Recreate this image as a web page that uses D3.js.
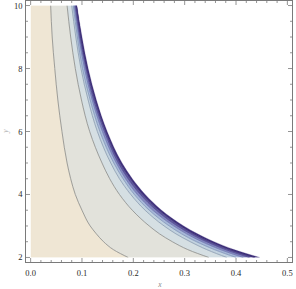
<!DOCTYPE html>
<html>
<head>
<meta charset="utf-8">
<script src="https://cdn.jsdelivr.net/npm/d3@7"></script>
<style>
  body { margin: 0; background: #fff; }
  svg { display: block; }
</style>
</head>
<body>
<div id="chart"></div>
<script>
// y sample rows, and x position of each contour along those rows
const ys = [2, 2.25, 2.5, 2.75, 3, 3.5, 4, 4.5, 5, 6, 7, 8, 9, 10];

const contour1 = [0.190, 0.161, 0.142, 0.128, 0.116, 0.100, 0.087, 0.078, 0.071, 0.061, 0.053, 0.047, 0.042, 0.039];
const contour2 = [0.347, 0.306, 0.276, 0.251, 0.231, 0.198, 0.173, 0.154, 0.139, 0.115, 0.099, 0.087, 0.078, 0.071];
const contour3 = [0.382, 0.343, 0.311, 0.283, 0.260, 0.223, 0.195, 0.173, 0.156, 0.130, 0.112, 0.098, 0.088, 0.080];
const contour4 = [0.400, 0.358, 0.323, 0.294, 0.270, 0.231, 0.202, 0.180, 0.162, 0.135, 0.116, 0.101, 0.091, 0.083];
const contour5 = [0.414, 0.370, 0.334, 0.304, 0.279, 0.238, 0.208, 0.185, 0.167, 0.140, 0.120, 0.105, 0.094, 0.085];
const contour6 = [0.426, 0.380, 0.343, 0.312, 0.286, 0.245, 0.214, 0.190, 0.171, 0.144, 0.123, 0.108, 0.096, 0.087];
const contour7 = [0.436, 0.389, 0.351, 0.319, 0.293, 0.251, 0.219, 0.195, 0.175, 0.147, 0.126, 0.110, 0.098, 0.089];
const boundary = [0.446, 0.396, 0.357, 0.325, 0.298, 0.255, 0.223, 0.198, 0.178, 0.149, 0.128, 0.112, 0.100, 0.090];

const xTicks = [0, 0.1, 0.2, 0.3, 0.4, 0.5];
const yTicks = [2, 4, 6, 8, 10];

const contours = [contour1, contour2, contour3, contour4, contour5, contour6, contour7, boundary];
const bandColors = ["#efe6d4", "#e2e2db", "#d5dfe3", "#c3d3e0", "#a7b7d8", "#8587c0", "#5f579b", "#3e2f7b"];
const lineColors = ["#8a8a86", "#8a8a86", "#8a9aae", "#8296b8", "#6f78b0", "#4f4a92", "#382a72"];

const W = 296, H = 289;

const x = d3.scaleLinear().domain([-0.01, 0.51]).range([25.5, 292.5]);
const y = d3.scaleLinear().domain([1.84, 10.16]).range([262.5, 0.5]);

const svg = d3.select("#chart")
    .append("svg")
    .attr("width", W)
    .attr("height", H);

svg.append("defs").append("clipPath")
    .attr("id", "plotClip")
    .append("rect")
    .attr("x", x(0))
    .attr("y", y(10))
    .attr("width", x(0.5) - x(0))
    .attr("height", y(2) - y(10));

const plot = svg.append("g").attr("clip-path", "url(#plotClip)");

// filled bands between consecutive contours
const rows = ys.map((v, i) => ({ y: v, xs: contours.map(c => c[i]) }));

const area = (lo, hi) => d3.area()
    .curve(d3.curveMonotoneY)
    .y(d => y(d.y))
    .x0(d => lo < 0 ? x(0) : x(d.xs[lo]))
    .x1(d => x(d.xs[hi]));

for (let k = 0; k < contours.length; k++) {
    plot.append("path")
        .datum(rows)
        .attr("d", area(k - 1, k))
        .attr("fill", bandColors[k])
        .attr("stroke", bandColors[k])
        .attr("stroke-width", 0.3);
}

// contour lines
const line = (k) => d3.line()
    .curve(d3.curveMonotoneY)
    .y(d => y(d.y))
    .x(d => x(d.xs[k]));

for (let k = 0; k < contours.length - 1; k++) {
    plot.append("path")
        .datum(rows)
        .attr("d", line(k))
        .attr("fill", "none")
        .attr("stroke", lineColors[k])
        .attr("stroke-width", 0.8);
}

// frame
const frameColor = "#7a7a7a";
const x0 = x.range()[0], x1 = x.range()[1], y0 = y.range()[0], y1 = y.range()[1];
svg.append("rect")
    .attr("x", x0)
    .attr("y", y1)
    .attr("width", x1 - x0)
    .attr("height", y0 - y1)
    .attr("fill", "none")
    .attr("stroke", frameColor)
    .attr("stroke-width", 1);

// ticks (inward, on all four sides)
const xMinor = d3.range(0, 0.5001, 0.02).filter(v => !xTicks.some(t => Math.abs(t - v) < 1e-6));
const yMinor = d3.range(2, 10.001, 0.5).filter(v => !yTicks.some(t => Math.abs(t - v) < 1e-6));

const ticks = svg.append("g").attr("stroke", frameColor).attr("stroke-width", 0.8);
xTicks.forEach(v => {
    ticks.append("line").attr("x1", x(v)).attr("x2", x(v)).attr("y1", y0).attr("y2", y0 - 4.5);
    ticks.append("line").attr("x1", x(v)).attr("x2", x(v)).attr("y1", y1).attr("y2", y1 + 4.5);
});
xMinor.forEach(v => {
    ticks.append("line").attr("x1", x(v)).attr("x2", x(v)).attr("y1", y0).attr("y2", y0 - 2.5);
    ticks.append("line").attr("x1", x(v)).attr("x2", x(v)).attr("y1", y1).attr("y2", y1 + 2.5);
});
yTicks.forEach(v => {
    ticks.append("line").attr("y1", y(v)).attr("y2", y(v)).attr("x1", x0).attr("x2", x0 + 4.5);
    ticks.append("line").attr("y1", y(v)).attr("y2", y(v)).attr("x1", x1).attr("x2", x1 - 4.5);
});
yMinor.forEach(v => {
    ticks.append("line").attr("y1", y(v)).attr("y2", y(v)).attr("x1", x0).attr("x2", x0 + 2.5);
    ticks.append("line").attr("y1", y(v)).attr("y2", y(v)).attr("x1", x1).attr("x2", x1 - 2.5);
});

// tick labels
const labelFont = "'Liberation Serif', 'DejaVu Serif', serif";
svg.append("g")
    .selectAll("text")
    .data(xTicks)
    .join("text")
    .attr("x", d => x(d))
    .attr("y", 276)
    .attr("text-anchor", "middle")
    .attr("font-family", labelFont)
    .attr("font-size", 8.5)
    .attr("fill", "#2a2a2a")
    .text(d => d3.format(".1f")(d));

svg.append("g")
    .selectAll("text")
    .data(yTicks)
    .join("text")
    .attr("x", 22.5)
    .attr("y", d => y(d) + 3)
    .attr("text-anchor", "end")
    .attr("font-family", labelFont)
    .attr("font-size", 8.5)
    .attr("fill", "#2a2a2a")
    .text(d => d);

// axis labels
svg.append("text")
    .attr("x", 160)
    .attr("y", 287)
    .attr("text-anchor", "middle")
    .attr("font-family", labelFont)
    .attr("font-style", "italic")
    .attr("font-size", 7.5)
    .attr("fill", "#888")
    .text("x");

svg.append("text")
    .attr("transform", "translate(8,131) rotate(-90)")
    .attr("text-anchor", "middle")
    .attr("font-family", labelFont)
    .attr("font-style", "italic")
    .attr("font-size", 7.5)
    .attr("fill", "#aaa")
    .text("y");
</script>
</body>
</html>
